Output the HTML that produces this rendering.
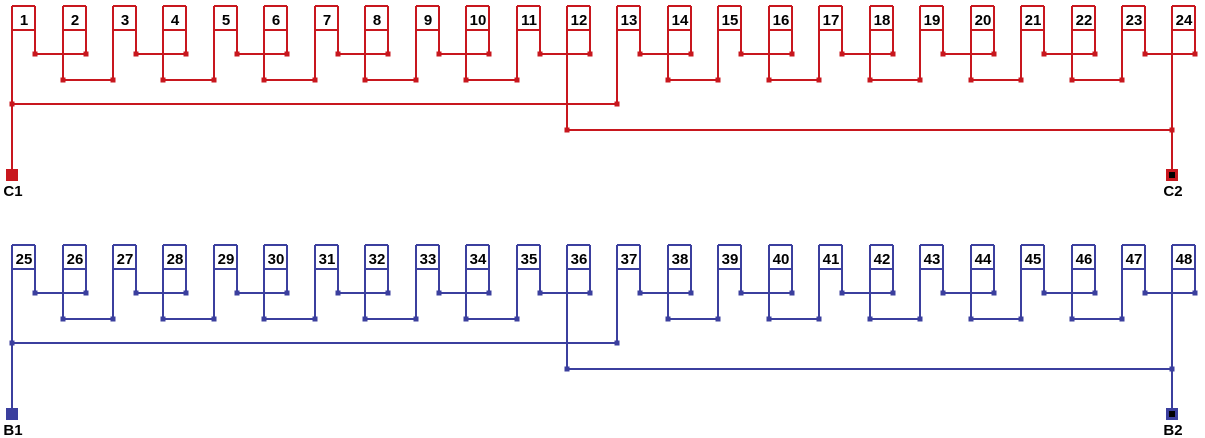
<!DOCTYPE html>
<html><head><style>
html,body{margin:0;padding:0;background:#fff;width:1205px;height:438px;overflow:hidden}
svg{display:block}
text{font-family:"Liberation Sans",sans-serif;font-weight:bold;font-size:15px;fill:#000;text-anchor:middle}
</style></head><body>
<svg width="1205" height="438" viewBox="0 0 1205 438" xmlns="http://www.w3.org/2000/svg">
<defs>
<g id="w" stroke-width="2">
<path fill="none" d="M12 6V175M63 6V80M113 6V80M163 6V80M214 6V80M264 6V80M315 6V80M365 6V80M416 6V80M466 6V80M517 6V80M567 6V130M617 6V104M668 6V80M718 6V80M769 6V80M819 6V80M870 6V80M920 6V80M971 6V80M1021 6V80M1072 6V80M1122 6V80M1172 6V175
M35 6V54M86 6V54M136 6V54M186 6V54M237 6V54M287 6V54M338 6V54M388 6V54M439 6V54M489 6V54M540 6V54M590 6V54M640 6V54M691 6V54M741 6V54M792 6V54M842 6V54M893 6V54M943 6V54M994 6V54M1044 6V54M1095 6V54M1145 6V54M1195 6V54
M35 54H86M136 54H186M237 54H287M338 54H388M439 54H489M540 54H590M640 54H691M741 54H792M842 54H893M943 54H994M1044 54H1095M1145 54H1195
M63 80H113M163 80H214M264 80H315M365 80H416M466 80H517M668 80H718M769 80H819M870 80H920M971 80H1021M1072 80H1122
M12 104H617M567 130H1172
M12 30H35M63 30H86M113 30H136M163 30H186M214 30H237M264 30H287M315 30H338M365 30H388M416 30H439M466 30H489M517 30H540M567 30H590M617 30H640M668 30H691M718 30H741M769 30H792M819 30H842M870 30H893M920 30H943M971 30H994M1021 30H1044M1072 30H1095M1122 30H1145M1172 30H1195
M12 6H35M63 6H86M113 6H136M163 6H186M214 6H237M264 6H287M315 6H338M365 6H388M416 6H439M466 6H489M517 6H540M567 6H590M617 6H640M668 6H691M718 6H741M769 6H792M819 6H842M870 6H893M920 6H943M971 6H994M1021 6H1044M1072 6H1095M1122 6H1145M1172 6H1195"/>
<path stroke="none" d="M32.5 51.5h5v5h-5zM83.5 51.5h5v5h-5zM133.5 51.5h5v5h-5zM183.5 51.5h5v5h-5zM234.5 51.5h5v5h-5zM284.5 51.5h5v5h-5zM335.5 51.5h5v5h-5zM385.5 51.5h5v5h-5zM436.5 51.5h5v5h-5zM486.5 51.5h5v5h-5zM537.5 51.5h5v5h-5zM587.5 51.5h5v5h-5zM637.5 51.5h5v5h-5zM688.5 51.5h5v5h-5zM738.5 51.5h5v5h-5zM789.5 51.5h5v5h-5zM839.5 51.5h5v5h-5zM890.5 51.5h5v5h-5zM940.5 51.5h5v5h-5zM991.5 51.5h5v5h-5zM1041.5 51.5h5v5h-5zM1092.5 51.5h5v5h-5zM1142.5 51.5h5v5h-5zM1192.5 51.5h5v5h-5z
M60.5 77.5h5v5h-5zM110.5 77.5h5v5h-5zM160.5 77.5h5v5h-5zM211.5 77.5h5v5h-5zM261.5 77.5h5v5h-5zM312.5 77.5h5v5h-5zM362.5 77.5h5v5h-5zM413.5 77.5h5v5h-5zM463.5 77.5h5v5h-5zM514.5 77.5h5v5h-5zM665.5 77.5h5v5h-5zM715.5 77.5h5v5h-5zM766.5 77.5h5v5h-5zM816.5 77.5h5v5h-5zM867.5 77.5h5v5h-5zM917.5 77.5h5v5h-5zM968.5 77.5h5v5h-5zM1018.5 77.5h5v5h-5zM1069.5 77.5h5v5h-5zM1119.5 77.5h5v5h-5z
M9.5 101.5h5v5h-5zM614.5 101.5h5v5h-5zM564.5 127.5h5v5h-5zM1169.5 127.5h5v5h-5z
M6 169h12v12h-12zM1166 169h12v12h-12z"/>
<rect x="1169" y="172" width="6" height="6" fill="#000" stroke="none"/>
</g>
</defs>
<use href="#w" stroke="#c8171e" fill="#c8171e"/>
<use href="#w" stroke="#3b3f9e" fill="#3b3f9e" transform="translate(0,239)"/>
<g>
<text x="24" y="25">1</text><text x="75" y="25">2</text><text x="125" y="25">3</text><text x="175" y="25">4</text><text x="226" y="25">5</text><text x="276" y="25">6</text><text x="327" y="25">7</text><text x="377" y="25">8</text><text x="428" y="25">9</text><text x="478" y="25">10</text><text x="529" y="25">11</text><text x="579" y="25">12</text><text x="629" y="25">13</text><text x="680" y="25">14</text><text x="730" y="25">15</text><text x="781" y="25">16</text><text x="831" y="25">17</text><text x="882" y="25">18</text><text x="932" y="25">19</text><text x="983" y="25">20</text><text x="1033" y="25">21</text><text x="1084" y="25">22</text><text x="1134" y="25">23</text><text x="1184" y="25">24</text>
<text x="24" y="264">25</text><text x="75" y="264">26</text><text x="125" y="264">27</text><text x="175" y="264">28</text><text x="226" y="264">29</text><text x="276" y="264">30</text><text x="327" y="264">31</text><text x="377" y="264">32</text><text x="428" y="264">33</text><text x="478" y="264">34</text><text x="529" y="264">35</text><text x="579" y="264">36</text><text x="629" y="264">37</text><text x="680" y="264">38</text><text x="730" y="264">39</text><text x="781" y="264">40</text><text x="831" y="264">41</text><text x="882" y="264">42</text><text x="932" y="264">43</text><text x="983" y="264">44</text><text x="1033" y="264">45</text><text x="1084" y="264">46</text><text x="1134" y="264">47</text><text x="1184" y="264">48</text>
<text x="13" y="196">C1</text><text x="1173" y="196">C2</text>
<text x="13" y="435">B1</text><text x="1173" y="435">B2</text>
</g>
</svg>
</body></html>
